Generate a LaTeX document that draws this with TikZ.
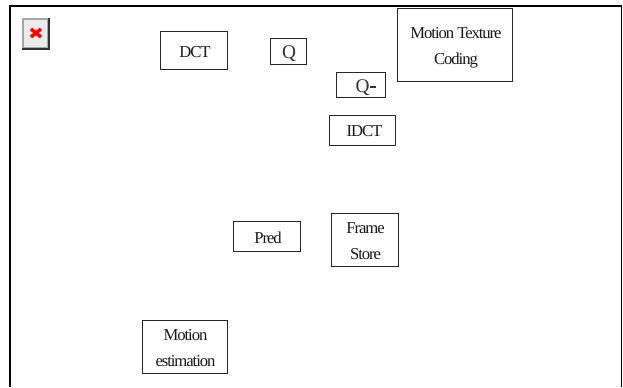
\documentclass[tikz,border=0pt]{standalone}
\usepackage{fontspec}
\setmainfont{Liberation Serif}[LetterSpace=-6.4]
\newfontfamily\qfont{Liberation Serif}
\tikzset{
  x=0.75pt,y=-0.75pt,
  blockbox/.style={draw=black!85,line width=0.75pt,fill=white,inner sep=0pt,outer sep=0pt,align=center,font=\fontsize{12.5pt}{19.5pt}\selectfont,text=black!90,text depth=0pt},
  textonly/.style={inner sep=0pt,outer sep=0pt,align=center,font=\fontsize{12.5pt}{19.5pt}\selectfont,text=black!90},
  qlabel/.style={font=\qfont\fontsize{14.5pt}{16pt}\selectfont,text=black!80,inner sep=0pt},
}
\begin{document}
\begin{tikzpicture}
\useasboundingbox (0,0) rectangle (623,387);
\fill[white] (0,0) rectangle (623,387);
% outer frame
\draw[line width=1.1pt] (10,387) -- (10,6) -- (621.5,6) -- (621.5,387);
% broken image icon
\fill[black!80] (22,18) rectangle (49.5,49.5);
\fill[black!35] (22,18) rectangle (48,48);
\fill[black!8] (23.5,19.5) rectangle (46.5,46.5);
\draw[red,line width=2.6pt] (31,29) -- (41,37) (41,29) -- (31,37);
% blocks
\node[blockbox,minimum width=50.25pt,minimum height=28.5pt] (dct) at (193.6,50.2) {};
\node[textonly] (dctt) at (195,52) {DCT};
\node[blockbox,minimum width=27pt,minimum height=19.5pt] (q) at (288.2,51.2) {};
\node[qlabel] (qt) at (289,54) {Q};
\node[blockbox,minimum width=36.4pt,minimum height=19pt] (qi) at (360.8,85.2) {};
\node[qlabel] (qit) at (366,88) {Q\raisebox{4pt}{\rule{5pt}{1.2pt}}};
\node[blockbox,minimum width=49.5pt,minimum height=22.5pt] (idct) at (362.8,130.2) {};
\node[textonly] (idctt) at (364.5,131) {IDCT};
\node[blockbox,minimum width=86.25pt,minimum height=54.75pt] (mtc) at (455,44.7) {};
\node[textonly] (mtct) at (456,48) {Motion Texture\\Coding};
\node[blockbox,minimum width=50.6pt,minimum height=22.5pt] (pred) at (266.8,236.5) {};
\node[textonly] (predt) at (268,237.5) {Pred};
\node[blockbox,minimum width=50.25pt,minimum height=40pt] (fs) at (364.8,240.2) {};
\node[textonly] (fst) at (365.5,241.5) {Frame\\Store};
\node[blockbox,minimum width=63.4pt,minimum height=40pt] (me) at (184.8,347.2) {};
\node[textonly] (met) at (185.5,348.5) {Motion\\estimation};
\end{tikzpicture}
\end{document}
